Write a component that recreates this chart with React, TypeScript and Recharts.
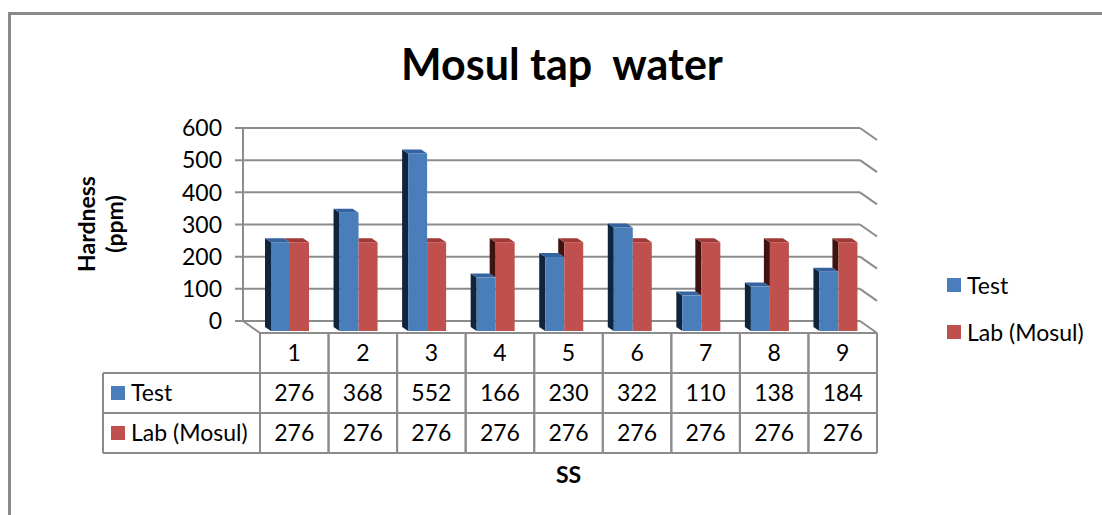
import React from 'react';
import { BarChart, Bar, XAxis, YAxis, CartesianGrid, Legend } from 'recharts';

const categories = ['1', '2', '3', '4', '5', '6', '7', '8', '9'];
const testValues = [276, 368, 552, 166, 230, 322, 110, 138, 184];
const labValues = [276, 276, 276, 276, 276, 276, 276, 276, 276];
const yTicks = [0, 100, 200, 300, 400, 500, 600];
const seriesNames = ['Test', 'Lab (Mosul)'];
const chartTitle = 'Mosul tap  water';
const xTitle = 'SS';
const yTitleLines = ['Hardness', '(ppm)'];

const data = categories.map((c, i) => ({ ss: c, test: testValues[i], lab: labValues[i] }));

const W = 1102;
const H = 515;
const PLOT_LEFT = 260;
const PLOT_RIGHT = 877;
const PLOT_TOP = 138;
const PLOT_BOTTOM = 331;
const DX = 17;
const DY = 10;
const BX = 6;
const BY = 4;
const SHIFT = -4;
const FONT = 'Lato, "Open Sans", sans-serif';
const GRID = '#8c8c8c';
const BLUE = '#4A7EBB';
const BLUE_SIDE = '#10243d';
const BLUE_TOP = '#3463a0';
const RED = '#C0504D';
const RED_SIDE = '#3e1312';
const RED_TOP = '#a03a37';
const CELL = (PLOT_RIGHT - PLOT_LEFT) / categories.length;
const TABLE_TOP = 333;
const ROW_H = 40;
const LABEL_LEFT = 103;
const FS = 23;

const gridLine = (p: any) => {
  const { x1, x2, y1 } = p;
  const y = y1;
  const bx1 = x1 - DX;
  const bx2 = x2 - DX;
  const by = y - DY;
  const isFloor = Math.abs(y - PLOT_BOTTOM) < 0.5;
  const ls = { stroke: GRID, strokeWidth: 2 };
  return (
    <g key={p.key}>
      <line x1={bx1 - 8} y1={by} x2={bx2} y2={by} {...ls} />
      <line x1={bx2} y1={by} x2={x2} y2={y + 2} {...ls} />
      {isFloor && (
        <g>
          <line x1={bx1} y1={by} x2={x1} y2={y + 2} {...ls} />
          <line x1={x1} y1={y + 2} x2={x2} y2={y + 2} {...ls} />
          <line x1={bx1} y1={by} x2={bx1} y2={PLOT_TOP - DY} {...ls} />
        </g>
      )}
    </g>
  );
};

const TestBar = (p: any) => {
  const { x, y, width, height } = p;
  if (!height) return null;
  const X = x + SHIFT;
  const b = y + height;
  return (
    <g>
      <polygon points={`${X},${y} ${X - BX},${y - BY} ${X - BX},${b - BY} ${X},${b}`} fill={BLUE_SIDE} />
      <polygon points={`${X},${y} ${X + width},${y} ${X + width - BX},${y - BY} ${X - BX},${y - BY}`} fill={BLUE_TOP} />
      <rect x={X} y={y} width={width} height={height} fill={BLUE} />
    </g>
  );
};

const LabBar = (p: any) => {
  const { x, y, width, height, payload } = p;
  if (!height) return null;
  const X = x + SHIFT;
  const b = y + height;
  const k = height / payload.lab;
  const yb = b - payload.test * k;
  const blueTaller = payload.test > payload.lab;
  const topPts = blueTaller
    ? `${X},${y} ${X + width},${y} ${X + width - BX},${y - BY} ${X},${y - BY}`
    : `${X},${y} ${X + width},${y} ${X + width - BX},${y - BY} ${X - BX},${y - BY}`;
  return (
    <g>
      {yb > y && (
        <polygon points={`${X},${y} ${X - BX},${y - BY} ${X - BX},${yb - BY} ${X},${yb}`} fill={RED_SIDE} />
      )}
      <polygon points={topPts} fill={RED_TOP} />
      <rect x={X} y={y} width={width} height={height} fill={RED} />
    </g>
  );
};

const YTick = (p: any) => (
  <text x={PLOT_LEFT - DX - 21} y={p.y - DY} dy="0.36em" textAnchor="end" fontFamily={FONT} fontSize={FS} fill="#000">
    {p.payload.value}
  </text>
);

const XTick = (p: any) => {
  const { x, index, payload } = p;
  const l = x - CELL / 2;
  const r = x + CELL / 2;
  const ls = { stroke: GRID, strokeWidth: 2 };
  const bottom = TABLE_TOP + 3 * ROW_H;
  const tx = { fontFamily: FONT, fontSize: FS, fill: '#000', textAnchor: 'middle' as const, dy: '0.36em' };
  const txL = { fontFamily: FONT, fontSize: FS, fill: '#000', dy: '0.36em' };
  return (
    <g>
      <line x1={l} y1={TABLE_TOP} x2={l} y2={bottom} {...ls} />
      <line x1={r} y1={TABLE_TOP} x2={r} y2={bottom} {...ls} />
      <line x1={l} y1={TABLE_TOP + ROW_H} x2={r} y2={TABLE_TOP + ROW_H} {...ls} />
      <line x1={l} y1={TABLE_TOP + 2 * ROW_H} x2={r} y2={TABLE_TOP + 2 * ROW_H} {...ls} />
      <line x1={l} y1={bottom} x2={r} y2={bottom} {...ls} />
      <text x={x} y={TABLE_TOP + ROW_H / 2} {...tx}>{payload.value}</text>
      <text x={x} y={TABLE_TOP + 1.5 * ROW_H} {...tx}>{testValues[index]}</text>
      <text x={x} y={TABLE_TOP + 2.5 * ROW_H} {...tx}>{labValues[index]}</text>
      {index === 0 && (
        <g>
          <line x1={LABEL_LEFT} y1={TABLE_TOP + ROW_H} x2={l} y2={TABLE_TOP + ROW_H} {...ls} />
          <line x1={LABEL_LEFT} y1={TABLE_TOP + 2 * ROW_H} x2={l} y2={TABLE_TOP + 2 * ROW_H} {...ls} />
          <line x1={LABEL_LEFT} y1={bottom} x2={l} y2={bottom} {...ls} />
          <line x1={LABEL_LEFT} y1={TABLE_TOP + ROW_H} x2={LABEL_LEFT} y2={bottom} {...ls} />
          <rect x={111} y={TABLE_TOP + 1.5 * ROW_H - 7} width={14} height={14} fill={BLUE} />
          <text x={131} y={TABLE_TOP + 1.5 * ROW_H} {...txL}>{seriesNames[0]}</text>
          <rect x={111} y={TABLE_TOP + 2.5 * ROW_H - 7} width={14} height={14} fill={RED} />
          <text x={131} y={TABLE_TOP + 2.5 * ROW_H} {...txL}>{seriesNames[1]}</text>
        </g>
      )}
    </g>
  );
};

const renderYLabel = () => (
  <g fontFamily={FONT} fontSize={FS} fontWeight="bold" fill="#000">
    <text x={95} y={224} textAnchor="middle" transform="rotate(-90, 95, 224)">{yTitleLines[0]}</text>
    <text x={123} y={224} textAnchor="middle" transform="rotate(-90, 123, 224)">{yTitleLines[1]}</text>
  </g>
);

const renderLegend = (props: any) => {
  const items = [...(props.payload || [])].sort(
    (a: any, b: any) => seriesNames.indexOf(a.value) - seriesNames.indexOf(b.value)
  );
  return (
    <div style={{ position: 'relative', width: 160, height: 90 }}>
      {items.map((it: any, i: number) => (
        <div
          key={i}
          style={{
            position: 'absolute',
            left: 7,
            top: 18 + i * 47 - 6,
            height: 26,
            display: 'flex',
            alignItems: 'center',
            fontFamily: FONT,
            fontSize: FS,
            color: '#000',
            whiteSpace: 'nowrap',
          }}
        >
          <span style={{ display: 'inline-block', width: 14, height: 14, background: it.color, marginRight: 6 }} />
          <span>{it.value}</span>
        </div>
      ))}
    </div>
  );
};

export default function App() {
  return (
    <div style={{ position: 'absolute', left: 0, top: 0, width: W, height: H, overflow: 'hidden', background: '#fff' }}>
      <div
        style={{
          position: 'absolute',
          left: 8,
          top: 12,
          width: W,
          height: H,
          borderLeft: '3px solid #8a8a8a',
          borderTop: '3px solid #8a8a8a',
        }}
      />
      <div
        style={{
          position: 'absolute',
          left: 262,
          width: 600,
          top: 39,
          textAlign: 'center',
          fontFamily: FONT,
          fontWeight: 'bold',
          fontSize: 43,
          lineHeight: '50px',
          whiteSpace: 'pre',
          color: '#000',
        }}
      >
        {chartTitle}
      </div>
      <div style={{ position: 'absolute', left: 0, top: 0 }}>
        <BarChart
          width={W}
          height={H}
          data={data}
          margin={{ top: PLOT_TOP, right: W - PLOT_RIGHT, bottom: 0, left: 0 }}
          barGap={0}
          barSize={19}
        >
          <CartesianGrid horizontal={gridLine} vertical={false} />
          <XAxis
            dataKey="ss"
            height={H - PLOT_BOTTOM}
            tick={XTick}
            tickLine={false}
            axisLine={false}
            interval={0}
            label={{ value: xTitle, position: 'insideBottom', offset: 32, fontFamily: FONT, fontSize: FS, fontWeight: 'bold', fill: '#000' }}
          />
          <YAxis
            width={PLOT_LEFT}
            domain={[0, 600]}
            ticks={yTicks}
            tick={YTick}
            tickLine={false}
            axisLine={false}
            label={renderYLabel}
          />
          <Legend
            content={renderLegend}
            layout="horizontal"
            verticalAlign="middle"
            align="center"
            wrapperStyle={{ left: 940, top: 260, width: 160, height: 90 }}
          />
          <Bar dataKey="test" name={seriesNames[0]} fill={BLUE} shape={TestBar} isAnimationActive={false} />
          <Bar dataKey="lab" name={seriesNames[1]} fill={RED} shape={LabBar} isAnimationActive={false} />
        </BarChart>
      </div>
    </div>
  );
}
